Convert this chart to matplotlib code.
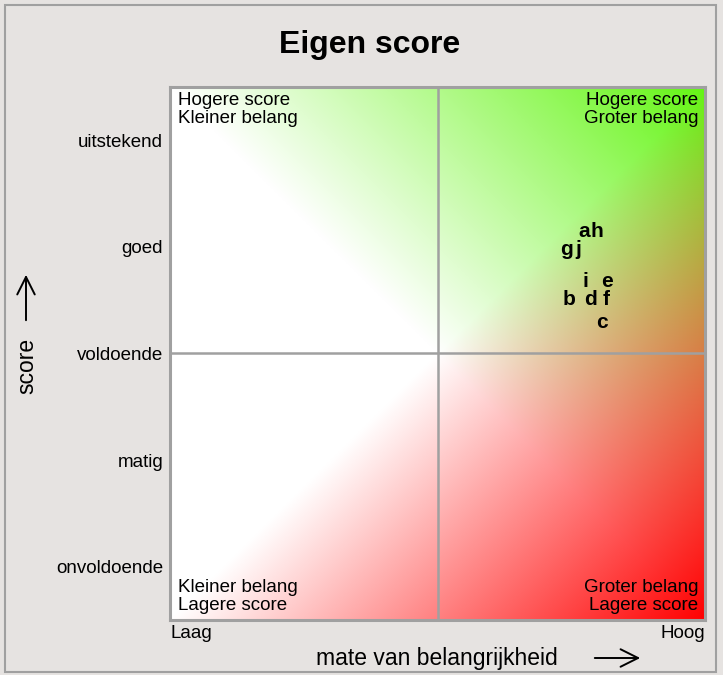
import matplotlib
matplotlib.use("Agg")
import matplotlib.pyplot as plt
from matplotlib.patches import Rectangle, FancyArrowPatch
import numpy as np

plt.rcParams['font.family'] = ['Liberation Sans', 'DejaVu Sans']

# data
labels = ['a', 'b', 'c', 'd', 'e', 'f', 'g', 'h', 'i', 'j']
belang = [4.37, 4.23, 4.54, 4.43, 4.58, 4.58, 4.21, 4.49, 4.38, 4.32]
score = [4.14, 3.51, 3.29, 3.51, 3.68, 3.51, 3.98, 4.14, 3.68, 3.98]

score_ticks = [1, 2, 3, 4, 5]
score_names = ['onvoldoende', 'matig', 'voldoende', 'goed', 'uitstekend']

W, H = 723, 675
bg = '#E6E3E1'
edge = '#A0A0A0'

fig = plt.figure(figsize=(W / 100, H / 100), dpi=100, facecolor=bg)

# outer border
fig.patches.append(Rectangle((5 / W, 3 / H), 711 / W, 667 / H, transform=fig.transFigure,
                             fill=False, edgecolor=edge, lw=1.5))

ax = fig.add_axes([170 / W, (H - 620) / H, 535 / W, 533 / H])

# background gradient: green to the upper right, red to the lower right
n = 400
u, v = np.meshgrid(np.linspace(0, 1, n), np.linspace(0, 1, n))
a_g = np.clip(u + v - 1, 0, 1)[..., None]
a_r = np.clip(u - v, 0, 1)[..., None]
green = np.array([100, 245, 20]) / 255
red = np.array([255, 0, 0]) / 255
img = np.ones((n, n, 3))
img = img * (1 - a_g) + green * a_g
img = img * (1 - a_r) + red * a_r
ax.imshow(img, extent=(0.5, 5.5, 0.5, 5.5), origin='lower', aspect='auto', zorder=0)

ax.axvline(3, color=edge, lw=1.8, zorder=1)
ax.axhline(3, color=edge, lw=1.8, zorder=1)

for lab, x, y in zip(labels, belang, score):
    ax.text(x, y, lab, ha='center', va='center', fontsize=15, fontweight='bold', zorder=3)

ax.set_xlim(0.5, 5.5)
ax.set_ylim(0.5, 5.5)
ax.set_xticks([])
ax.set_yticks(score_ticks)
ax.set_yticklabels(score_names, fontsize=13.5)
ax.tick_params(axis='y', length=0, pad=5)
for s in ax.spines.values():
    s.set_color(edge)
    s.set_linewidth(2.2)

# quadrant notes
fs = 13.5
ax.text(0.015, 0.99, 'Hogere score\nKleiner belang', transform=ax.transAxes, ha='left', va='top',
        fontsize=fs, linespacing=1.05)
ax.text(0.987, 0.99, 'Hogere score\nGroter belang', transform=ax.transAxes, ha='right', va='top',
        fontsize=fs, linespacing=1.05, multialignment='right')
ax.text(0.015, 0.012, 'Kleiner belang\nLagere score', transform=ax.transAxes, ha='left', va='bottom',
        fontsize=fs, linespacing=1.05)
ax.text(0.987, 0.012, 'Groter belang\nLagere score', transform=ax.transAxes, ha='right', va='bottom',
        fontsize=fs, linespacing=1.05, multialignment='right')

# axis texts
fig.text(170 / W, 1 - 634 / H, 'Laag', ha='left', va='center', fontsize=fs)
fig.text(705 / W, 1 - 634 / H, 'Hoog', ha='right', va='center', fontsize=fs)
fig.text(370 / W, 1 - 45 / H, 'Eigen score', ha='center', va='center', fontsize=23, fontweight='bold')
fig.text(437 / W, 1 - 659 / H, 'mate van belangrijkheid', ha='center', va='center', fontsize=16.5)
fig.text(27 / W, 1 - 366 / H, 'score', ha='center', va='center', rotation=90, fontsize=16.5)

fig.patches.append(FancyArrowPatch((592 / W, 1 - 658 / H), (643 / W, 1 - 658 / H),
                                   transform=fig.transFigure, arrowstyle='->,head_length=0.7,head_width=0.35',
                                   mutation_scale=18, lw=1.4, color='black'))
fig.patches.append(FancyArrowPatch((26 / W, 1 - 323 / H), (26 / W, 1 - 272 / H),
                                   transform=fig.transFigure, arrowstyle='->,head_length=0.7,head_width=0.35',
                                   mutation_scale=18, lw=1.4, color='black'))

fig.savefig('out.png', dpi=100, facecolor=bg)
